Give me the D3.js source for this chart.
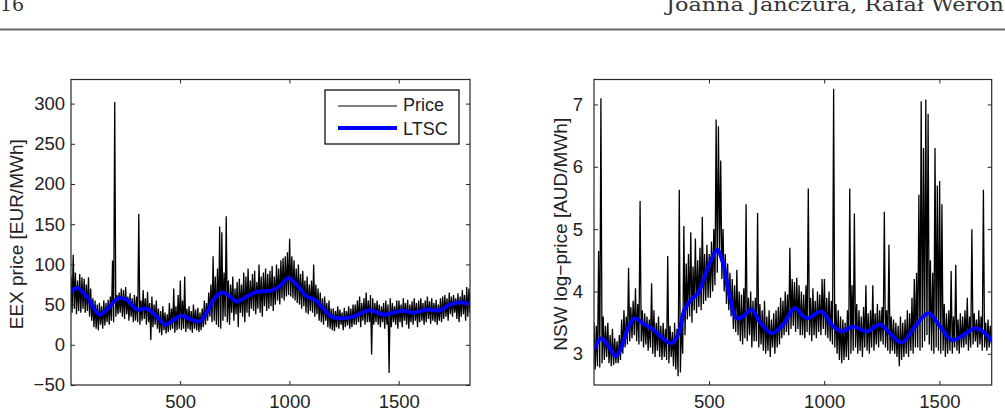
<!DOCTYPE html>
<html>
<head>
<meta charset="utf-8">
<script src="https://cdn.jsdelivr.net/npm/d3@7"></script>
<style>
  body { margin: 0; background: #fff; }
  svg text { font-family: "Liberation Sans", Arial, sans-serif; }
</style>
</head>
<body>
<svg id="fig" width="1005" height="408"></svg>
<script>
var eexHigh = [
  85, 112, 90, 80, 88, 84, 82, 75, 84, 70,
  58, 55, 50, 52, 48, 55, 52, 56, 60, 105,
  302, 62, 65, 70, 68, 72, 60, 64, 58, 62,
  60, 163, 55, 68, 58, 66, 52, 60, 50, 55,
  45, 42, 48, 40, 38, 52, 45, 70, 48, 62,
  80, 55, 85, 45, 48, 42, 50, 44, 46, 40,
  45, 55, 52, 65, 75, 110, 85, 95, 147, 140,
  90, 160, 80, 75, 85, 70, 78, 82, 75, 90,
  85, 95, 80, 88, 92, 78, 100, 85, 90, 95,
  88, 92, 98, 85, 100, 95, 105, 108, 110, 115,
  132, 110, 105, 95, 100, 88, 92, 80, 85, 75,
  80, 100, 75, 70, 65, 58, 60, 52, 55, 45,
  45, 42, 48, 44, 40, 46, 42, 48, 45, 50,
  50, 55, 60, 52, 58, 65, 55, 62, 58, 52,
  55, 50, 48, 52, 55, 50, 58, 52, 48, 55,
  55, 50, 58, 52, 56, 50, 54, 58, 52, 55,
  58, 52, 55, 60, 54, 58, 52, 56, 50, 58,
  60, 62, 58, 65, 60, 62, 58, 64, 60, 68, 62, 72, 70
];
var eexLow = [
  40, 45, 38, 42, 40, 45, 40, 42, 35, 30,
  22, 20, 18, 25, 20, 24, 28, 25, 30, 28,
  35, 38, 40, 35, 32, 38, 30, 35, 28, 30,
  28, 25, 30, 32, 25, 28, 6, 22, 25, 20,
  15, 12, 18, 14, 16, 18, 20, 15, 18, 20,
  18, 20, 16, 20, 18, 15, 20, 18, 16, 18,
  22, 25, 30, 35, 28, 30, 25, 22, 20, 30,
  35, 28, 25, 40, 30, 38, 22, 40, 35, 28,
  40, 35, 45, 42, 38, 45, 40, 35, 48, 42,
  45, 48, 42, 50, 55, 50, 58, 55, 60, 62,
  60, 58, 55, 52, 50, 45, 48, 40, 38, 42,
  40, 35, 38, 30, 28, 25, 30, 22, 20, 18,
  17, 22, 20, 25, 18, 22, 24, 20, 22, 25,
  25, 28, 22, 30, 25, 28, 28, -12, 25, 28,
  25, 22, 28, 20, 25, -35, 22, 28, 25, 20,
  28, 22, 30, 25, 20, 28, 25, 30, 22, 28,
  30, 25, 28, 32, 26, 30, 28, 25, 30, 28,
  32, 35, 30, 38, 35, 40, 32, 28, 35, 38, 30, 35, 40
];
// EEX long-term seasonal component
var eexLtscDay = [1, 27, 73, 104, 131, 165, 218, 256, 302, 348, 393, 434, 470, 508, 546, 588, 622, 652, 690,
  729, 759, 805, 851, 911, 957, 995, 1033, 1079, 1117, 1155, 1193, 1232, 1292, 1331, 1369, 1430, 1475,
  1521, 1567, 1628, 1689, 1734, 1780, 1826];
var eexLtscVal = [66, 71, 60, 46, 37.5, 44, 58, 56, 44, 45, 35, 25, 31, 36, 32, 29, 40, 56, 65,
  60, 54, 60, 66, 67, 73, 83, 75, 60, 56, 45, 35, 33, 35, 40, 43, 37.5, 40,
  42.5, 40, 44, 43, 50, 53, 50];

// NSW daily log-price, high/low pairs every 10 days
var nswHigh = [
  3.5, 3.45, 4.65, 7.1, 3.6, 3.45, 3.5, 3.3, 3.4, 3.25,
  3.2, 3.3, 3.55, 3.7, 3.6, 4.38, 3.75, 3.85, 4.05, 3.8,
  5.45, 3.7, 3.65, 3.6, 3.55, 4.13, 3.7, 3.5, 3.6, 3.45,
  3.5, 3.4, 4.57, 3.45, 3.35, 3.5, 3.4, 5.63, 3.6, 5.05,
  4.45, 4.6, 4.95, 4.4, 4.85, 4.5, 4.7, 5.2, 4.6, 4.75,
  4.6, 4.8, 5.0, 6.76, 6.65, 6.1, 5.0, 4.6, 4.45, 4.3,
  4.2, 4.1, 4.35, 4.0, 3.95, 4.05, 5.4, 3.9, 4.0, 3.85,
  3.9, 5.26, 3.8, 3.7, 3.85, 3.6, 3.7, 3.55, 3.65, 3.7,
  3.75, 3.9, 3.85, 4.0, 3.95, 4.7, 4.2, 4.15, 4.22, 4.1,
  4.0, 3.95, 4.1, 5.65, 3.9, 4.05, 3.85, 4.0, 3.95, 4.2,
  4.2, 3.9, 4.0, 3.85, 7.25, 3.8, 3.7, 3.6, 3.55, 3.5,
  3.7, 5.65, 4.1, 5.25, 3.8, 3.7, 3.6, 3.75, 4.1, 3.65,
  3.7, 4.1, 3.65, 3.8, 3.7, 3.75, 5.28, 3.7, 4.75, 3.6,
  3.55, 3.5, 3.45, 3.6, 3.5, 3.55, 3.7, 3.65, 3.9, 4.2,
  4.3, 5.55, 7.05, 6.3, 7.08, 6.85, 4.5, 4.3, 6.3, 5.7,
  5.77, 5.4, 3.8, 3.65, 3.7, 4.33, 3.6, 4.43, 3.55, 3.65,
  3.6, 3.7, 3.9, 3.6, 5.0, 3.65, 3.55, 3.7, 3.6, 5.63,
  3.5, 3.55, 3.45
];
var nswLow = [
  2.75, 2.8, 2.78, 2.85, 2.9, 2.95, 2.85, 2.8, 2.82, 2.85,
  2.85, 2.9, 3.0, 3.1, 3.15, 3.2, 3.25, 3.3, 3.2, 3.15,
  3.2, 3.1, 3.15, 3.05, 3.1, 3.0, 2.95, 3.05, 2.95, 2.9,
  2.95, 2.9, 2.85, 2.95, 2.8, 2.75, 2.64, 2.7, 3.0, 3.3,
  3.55, 3.6, 3.5, 3.7, 3.65, 3.75, 3.7, 3.8, 3.85, 3.9,
  3.9, 4.0, 4.1, 4.3, 4.6, 4.2, 4.0, 3.8, 3.7, 3.6,
  3.4, 3.35, 3.3, 3.2, 3.15, 3.25, 3.2, 3.3, 3.1, 3.2,
  3.2, 3.1, 3.15, 3.05, 3.0, 3.05, 2.95, 3.1, 3.0, 3.1,
  3.15, 3.25, 3.3, 3.35, 3.3, 3.4, 3.45, 3.35, 3.4, 3.3,
  3.3, 3.25, 3.35, 3.3, 3.2, 3.3, 3.25, 3.35, 3.3, 3.4,
  3.3, 3.25, 3.2, 3.15, 3.1, 3.0, 2.9, 2.85, 2.9, 2.95,
  2.9, 3.0, 3.05, 3.1, 3.0, 3.05, 2.95, 3.1, 3.05, 3.0,
  3.1, 3.05, 3.15, 3.1, 3.2, 3.15, 3.1, 3.05, 3.0, 3.05,
  3.0, 2.95, 2.8, 2.9, 2.95, 3.0, 2.95, 3.05, 3.0, 3.1,
  3.1, 3.05, 3.1, 3.2, 3.3, 3.15, 3.05, 3.0, 3.1, 3.05,
  3.0, 3.05, 2.95, 3.0, 3.05, 3.0, 3.1, 3.05, 3.0, 3.1,
  3.1, 3.15, 3.05, 3.1, 3.15, 3.2, 3.1, 3.15, 3.05, 3.1,
  3.05, 3.1, 3.15
];
var nswLtscDay = [1, 32, 61, 97, 126, 148, 177, 213, 257, 300, 336, 365, 394, 423, 452, 481, 510, 536, 561,
  590, 619, 648, 684, 720, 771, 822, 872, 923, 988, 1032, 1075, 1126, 1184, 1242, 1285, 1336, 1394,
  1452, 1503, 1553, 1604, 1655, 1698, 1727];
var nswLtscVal = [3.06, 3.25, 3.14, 2.96, 3.17, 3.41, 3.57, 3.49, 3.39, 3.25, 3.17, 3.30, 3.71, 3.87, 3.97, 4.24, 4.51, 4.67, 4.45,
  3.92, 3.57, 3.60, 3.71, 3.52, 3.33, 3.47, 3.73, 3.57, 3.68, 3.47, 3.36, 3.44, 3.36, 3.47, 3.33, 3.18, 3.44,
  3.65, 3.44, 3.22, 3.30, 3.41, 3.33, 3.20];

var xTicks = [500, 1000, 1500];
var eexYTicks = [-50, 0, 50, 100, 150, 200, 250, 300];
var nswYTicks = [3, 4, 5, 6, 7];

function zigzag(hi, lo, step) {
  var pts = [];
  for (var i = 0; i < hi.length; i++) {
    pts.push({day: 1 + step * i, v: hi[i]});
    pts.push({day: 1 + step * i + step / 2, v: lo[i]});
  }
  return pts;
}
function pairs(days, vals) {
  return days.map(function (d, i) { return {day: d, v: vals[i]}; });
}

var svg = d3.select("#fig");

// running header
svg.append("text").attr("x", 0).attr("y", 11)
  .style("font-family", "'DejaVu Serif', serif").style("font-size", "19px").attr("fill", "#333")
  .text("16");
svg.append("text").attr("x", 1004).attr("y", 11).attr("text-anchor", "end")
  .style("font-family", "'DejaVu Serif', serif").style("font-size", "19px").attr("fill", "#333")
  .attr("textLength", 338).attr("lengthAdjust", "spacingAndGlyphs")
  .text("Joanna Janczura, Rafał Weron");
svg.append("line").attr("x1", 0).attr("x2", 1005).attr("y1", 29.5).attr("y2", 29.5)
  .attr("stroke", "#666").attr("stroke-width", 2);

function panel(p) {
  var x = d3.scaleLinear().domain(p.xDomain).range([p.left, p.right]);
  var y = d3.scaleLinear().domain(p.yDomain).range([p.bottom, p.top]);
  var g = svg.append("g");

  g.append("clipPath").attr("id", p.id + "clip")
    .append("rect").attr("x", p.left).attr("y", p.top)
    .attr("width", p.right - p.left).attr("height", p.bottom - p.top);

  var line = d3.line()
    .x(function (d) { return x(d.day); })
    .y(function (d) { return y(d.v); });
  var smooth = d3.line()
    .curve(d3.curveCatmullRom)
    .x(function (d) { return x(d.day); })
    .y(function (d) { return y(d.v); });

  var plot = g.append("g").attr("clip-path", "url(#" + p.id + "clip)");
  plot.append("path").attr("d", line(p.price))
    .attr("fill", "none").attr("stroke", "#000").attr("stroke-width", 1.3);
  plot.append("path").attr("d", smooth(p.ltsc))
    .attr("fill", "none").attr("stroke", "#0000ff").attr("stroke-width", 4)
    .attr("stroke-linejoin", "round");

  function styleAxis(a) {
    a.select(".domain").remove();
    a.selectAll(".tick line").attr("stroke", "#262626");
    a.selectAll(".tick text").attr("fill", "#222").style("font-size", "18.5px");
  }
  var fmt = d3.format("d");
  g.append("g").attr("transform", "translate(0," + p.bottom + ")")
    .call(d3.axisBottom(x).tickValues(xTicks).tickFormat(fmt).tickSize(-4).tickPadding(10)).call(styleAxis);
  g.append("g").attr("transform", "translate(0," + p.top + ")")
    .call(d3.axisTop(x).tickValues(xTicks).tickSize(-4).tickFormat("")).call(styleAxis);
  g.append("g").attr("transform", "translate(" + p.left + ",0)")
    .call(d3.axisLeft(y).tickValues(p.yTicks).tickFormat(fmt).tickSize(-4).tickPadding(p.pad)).call(styleAxis);
  g.append("g").attr("transform", "translate(" + p.right + ",0)")
    .call(d3.axisRight(y).tickValues(p.yTicks).tickSize(-4).tickFormat("")).call(styleAxis);

  g.append("rect").attr("x", p.left).attr("y", p.top)
    .attr("width", p.right - p.left).attr("height", p.bottom - p.top)
    .attr("fill", "none").attr("stroke", "#262626").attr("stroke-width", 1.2);

  g.append("text")
    .attr("transform", "translate(" + p.labelX + "," + ((p.top + p.bottom) / 2 + 2) + ") rotate(-90)")
    .attr("text-anchor", "middle").style("font-size", "19px").attr("fill", "#222")
    .text(p.ylabel);
  return g;
}

var eex = panel({
  id: "eex", left: 71, right: 470, top: 79.5, bottom: 385,
  xDomain: [1, 1826], yDomain: [-50, 330], yTicks: eexYTicks, pad: 6,
  price: zigzag(eexHigh, eexLow, 10), ltsc: pairs(eexLtscDay, eexLtscVal),
  ylabel: "EEX price [EUR/MWh]", labelX: 23
});
panel({
  id: "nsw", left: 594, right: 991.7, top: 79.5, bottom: 385,
  xDomain: [1, 1727], yDomain: [2.5, 7.4], yTicks: nswYTicks, pad: 11,
  price: zigzag(nswHigh, nswLow, 10), ltsc: pairs(nswLtscDay, nswLtscVal),
  ylabel: "NSW log\u2212price [AUD/MWh]", labelX: 567
});

// legend (EEX panel)
var leg = eex.append("g");
leg.append("rect").attr("x", 325).attr("y", 90).attr("width", 134).attr("height", 54)
  .attr("fill", "#fff").attr("stroke", "#111").attr("stroke-width", 1.3);
leg.append("line").attr("x1", 338).attr("x2", 397).attr("y1", 106).attr("y2", 106)
  .attr("stroke", "#000").attr("stroke-width", 1);
leg.append("line").attr("x1", 338).attr("x2", 397).attr("y1", 128).attr("y2", 128)
  .attr("stroke", "#0000ff").attr("stroke-width", 4);
leg.append("text").attr("x", 403).attr("y", 111).style("font-size", "18px").attr("fill", "#222").text("Price");
leg.append("text").attr("x", 403).attr("y", 135).style("font-size", "18px").attr("fill", "#222").text("LTSC");
</script>
</body>
</html>
